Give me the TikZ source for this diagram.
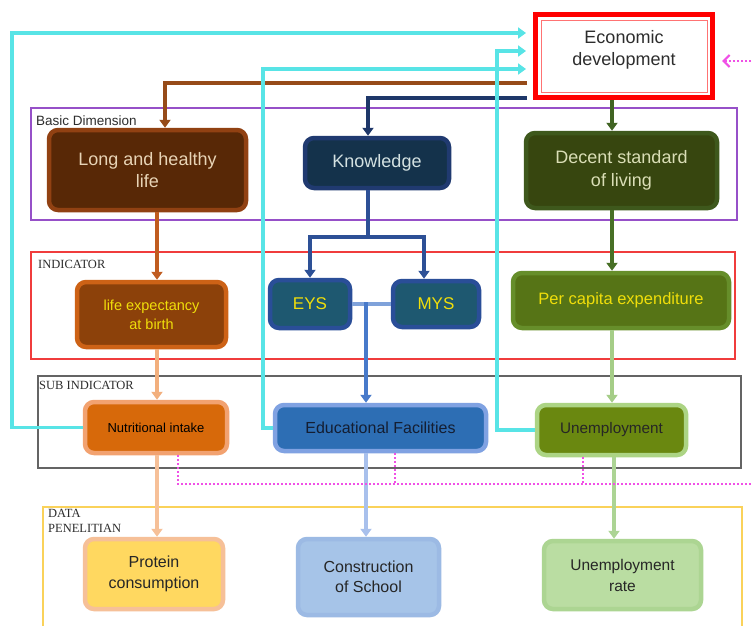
\documentclass[tikz,border=0pt]{standalone}
\usepackage{fontspec}
\setmainfont{Liberation Sans}
\newfontfamily\lblfont{Liberation Serif}
\usetikzlibrary{arrows.meta,calc}
\definecolor{cyanL}{RGB}{88,228,230}
\definecolor{brownL}{RGB}{150,75,25}
\definecolor{navyL}{RGB}{30,55,105}
\definecolor{dgreenL}{RGB}{65,100,35}
\definecolor{longF}{RGB}{88,40,6}
\definecolor{longD}{RGB}{145,65,18}
\definecolor{longT}{RGB}{232,212,182}
\definecolor{knowF}{RGB}{20,50,75}
\definecolor{knowD}{RGB}{32,58,112}
\definecolor{knowT}{RGB}{212,226,226}
\definecolor{decF}{RGB}{55,70,15}
\definecolor{decD}{RGB}{62,88,28}
\definecolor{decT}{RGB}{218,222,182}
\definecolor{lifeA}{RGB}{192,92,32}
\definecolor{lifeF}{RGB}{140,65,10}
\definecolor{lifeD}{RGB}{205,98,22}
\definecolor{yelT}{RGB}{240,222,10}
\definecolor{eysF}{RGB}{30,88,112}
\definecolor{eysD}{RGB}{42,78,152}
\definecolor{kbL}{RGB}{45,80,150}
\definecolor{eduL}{RGB}{72,122,202}
\definecolor{pcF}{RGB}{86,116,22}
\definecolor{pcD}{RGB}{102,142,42}
\definecolor{pcA}{RGB}{72,112,38}
\definecolor{lgA}{RGB}{165,205,135}
\definecolor{orA}{RGB}{242,175,125}
\definecolor{nutF}{RGB}{215,105,10}
\definecolor{nutD}{RGB}{242,162,112}
\definecolor{eduF}{RGB}{45,110,180}
\definecolor{eduD}{RGB}{128,162,226}
\definecolor{eduT}{RGB}{20,30,50}
\definecolor{unF}{RGB}{106,136,16}
\definecolor{unD}{RGB}{172,212,132}
\definecolor{prA}{RGB}{246,192,152}
\definecolor{coA}{RGB}{168,192,236}
\definecolor{urA}{RGB}{172,212,148}
\definecolor{prF}{RGB}{255,216,96}
\definecolor{prD}{RGB}{246,192,152}
\definecolor{coF}{RGB}{166,196,232}
\definecolor{coD}{RGB}{156,186,228}
\definecolor{urF}{RGB}{186,221,162}
\definecolor{urD}{RGB}{172,213,146}
\definecolor{pinkL}{RGB}{240,80,230}
\definecolor{grpP}{RGB}{150,80,200}
\definecolor{grpR}{RGB}{240,60,60}
\definecolor{grpG}{RGB}{100,100,100}
\definecolor{grpY}{RGB}{250,210,90}
\definecolor{lblT}{RGB}{45,45,45}
\begin{document}
\begin{tikzpicture}[x=1pt,y=-1pt,
  box/.style={rounded corners=9pt, line width=4.5pt, align=center, inner sep=2pt},
  conn/.style={line width=3.2pt},
  tip/.style={-{Triangle[length=8pt,width=11pt]}},
  arr/.style={conn, tip},
  grp/.style={line width=1.1pt},
  grplbl/.style={anchor=west, inner sep=0pt, text=lblT},
  pinkdot/.style={pinkL, line width=2.2pt, dash pattern=on 2pt off 2pt}
]
\useasboundingbox (0,0) rectangle (752,626);
\clip (0,0) rectangle (752,626);
\fill[white] (0,0) rectangle (752,626);

% group boxes
\draw[grp, grpP] (31,108) rectangle (737,220);
\draw[grp, grpR] (31,252) rectangle (735,359);
\draw[grp, grpG] (38,376) rectangle (741,468);
\draw[grp, grpY, line width=1.6pt] (43,507) rectangle (742,660);
\node[grplbl, font=\fontsize{13.5}{15}\selectfont] (lblBD) at (36,121) {Basic Dimension};
\node[grplbl, font=\lblfont\fontsize{12.5}{14}\selectfont] (lblIN) at (38,264) {INDICATOR};
\node[grplbl, font=\lblfont\fontsize{12.5}{14}\selectfont] (lblSI) at (39,385) {SUB INDICATOR};
\node[grplbl, font=\lblfont\fontsize{12.5}{15.5}\selectfont, align=left, anchor=north west] (lblDP) at (48,509) {DATA\\PENELITIAN};

% nodes
\node[draw=red, line width=5pt, fill=white, minimum width=177, minimum height=83, align=center,
      font=\fontsize{18}{22}\selectfont, text=lblT] (econ) at (624,56)
      {Economic\\development\rule[-17pt]{0pt}{17pt}};
\draw[red!55, line width=0.8pt] ($(econ.north west)+(8,8)$) rectangle ($(econ.south east)+(-8,-8)$);

\node[box, fill=longF, draw=longD, text=longT, minimum width=197, minimum height=80,
      font=\fontsize{18}{22}\selectfont] (long) at (147.5,170) {Long and healthy\\life};
\node[box, fill=knowF, draw=knowD, text=knowT, minimum width=144, minimum height=50,
      font=\fontsize{18}{22}\selectfont] (know) at (377,163) {Knowledge};
\node[box, fill=decF, draw=decD, text=decT, minimum width=191, minimum height=75,
      font=\fontsize{18}{23}\selectfont] (decent) at (621.5,170.5) {Decent standard\\of living};

\node[box, fill=lifeF, draw=lifeD, text=yelT, minimum width=149, minimum height=65,
      font=\fontsize{14.5}{19}\selectfont] (life) at (151.5,314.5) {life expectancy\\at birth};
\node[box, fill=eysF, draw=eysD, text=yelT, minimum width=80, minimum height=48,
      font=\fontsize{17}{20}\selectfont] (eys) at (310,304) {EYS};
\node[box, fill=eysF, draw=eysD, text=yelT, minimum width=86, minimum height=46,
      font=\fontsize{17}{20}\selectfont] (mys) at (436,304) {MYS};
\node[box, fill=pcF, draw=pcD, text=yelT, minimum width=216, minimum height=55,
      font=\fontsize{16.5}{20}\selectfont] (percap) at (621,300.5) {Per capita expenditure};

\node[box, fill=nutF, draw=nutD, text=black, minimum width=142, minimum height=51,
      font=\fontsize{13}{16}\selectfont] (nutri) at (156,427.5) {Nutritional intake};
\node[box, fill=eduF, draw=eduD, text=eduT, minimum width=211, minimum height=46,
      font=\fontsize{16}{19}\selectfont] (edu) at (380.5,428) {Educational Facilities};
\node[box, fill=unF, draw=unD, text=black!85, minimum width=149, minimum height=50,
      font=\fontsize{15.3}{18}\selectfont] (unemp) at (611.5,430) {Unemployment};

\node[box, fill=prF, draw=prD, text=black!85, minimum width=138, minimum height=70,
      font=\fontsize{16}{21}\selectfont] (protein) at (154,574) {Protein\\consumption};
\node[box, fill=coF, draw=coD, text=black!85, minimum width=141, minimum height=76,
      font=\fontsize{16}{20}\selectfont] (constr) at (368.5,577) {Construction\\of School};
\node[box, fill=urF, draw=urD, text=black!85, minimum width=157, minimum height=68,
      font=\fontsize{15.5}{21}\selectfont] (unrate) at (622.5,575) {Unemployment\\rate};

% top connectors from economic development
\draw[arr, brownL, shorten <=6pt] (econ.west |- 0,83) -| (long.north -| 165,0);
\draw[arr, navyL, shorten <=6pt] (econ.west |- 0,98) -| (know.north -| 368,0);
\draw[arr, dgreenL] (econ.south -| 612,0) -- (decent.north -| 612,0);

% cyan feedback lines
\draw[arr, cyanL, shorten >=7pt] (nutri.west) -| (12,33) -- (econ.west |- 0,33);
\draw[arr, cyanL, shorten >=7pt] (edu.west) -| (263,69) -- (econ.west |- 0,69);
\draw[arr, cyanL, shorten >=7pt] (unemp.west) -| (497,51) -- (econ.west |- 0,51);

% basic dimension -> indicator
\draw[arr, lifeA] (long.south -| 157,0) -- (life.north -| 157,0);
\coordinate (kb) at (368,237);
\draw[conn, kbL] (know.south -| kb) -- (kb);
\draw[arr, kbL] (kb) -| (eys.north);
\draw[arr, kbL] (kb) -| (mys.north -| 424,0);
\draw[arr, pcA] (decent.south -| 612,0) -- (percap.north -| 612,0);

% indicator -> sub indicator
\draw[arr, orA] (life.south -| 157,0) -- (nutri.north -| 157,0);
\coordinate (ej) at (366,302);
\draw[conn, eduL!70] (eys.east) -- (mys.west);
\draw[arr, eduL] (ej) -- (ej |- edu.north);
\draw[arr, lgA] (percap.south -| 612,0) -- (unemp.north -| 612,0);

% sub indicator -> data
\draw[arr, prA] (nutri.south -| 157,0) -- (protein.north -| 157,0);
\draw[arr, coA] (edu.south -| 366,0) -- (constr.north -| 366,0);
\draw[arr, urA] (unemp.south -| 614,0) -- (unrate.north -| 614,0);

% pink dotted feedback
\coordinate (pj) at (760,484);
\draw[pinkdot] (nutri.south -| 178,0) -- (178,484) -- (pj);
\draw[pinkdot] (edu.south -| 395,0) -- (395,484);
\draw[pinkdot] (unemp.south -| 583,0) -- (583,484);
\draw[pinkdot, -{Straight Barb[length=6pt,width=12pt]}, shorten >=7pt]
  (pj) -- (760,61) -- (econ.east |- 0,61);
\end{tikzpicture}
\end{document}
